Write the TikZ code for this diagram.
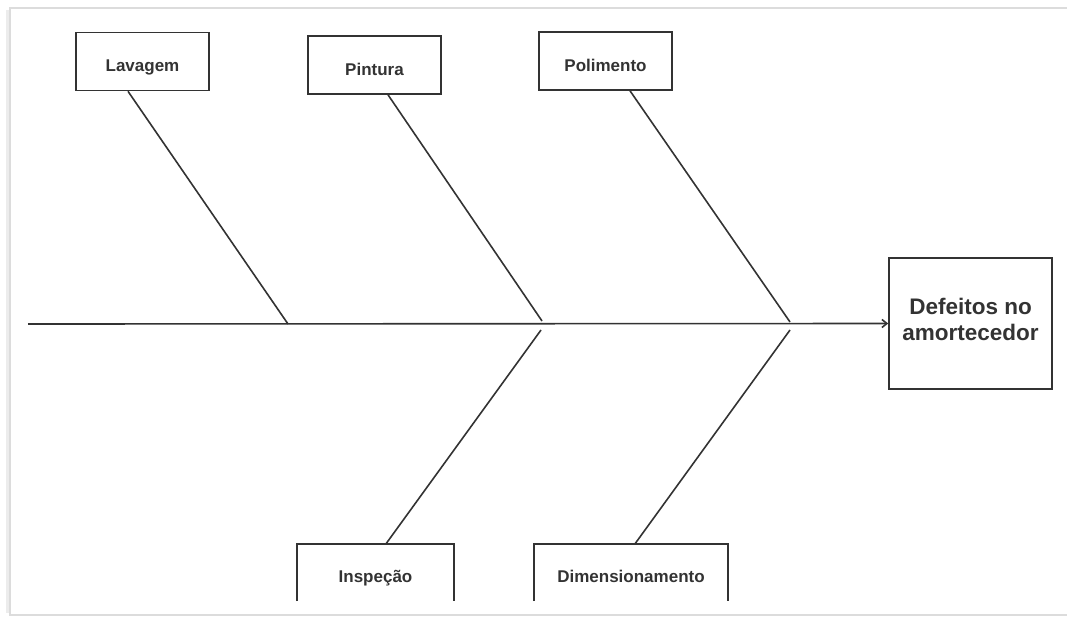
\documentclass[tikz,border=0pt]{standalone}
\usepackage{fontspec}
\setmainfont{Liberation Sans}
\usetikzlibrary{arrows.meta,positioning,calc}
\definecolor{BoneGray}{HTML}{333333}
\definecolor{FrameGray}{HTML}{DCDCDC}

\begin{document}
\begin{tikzpicture}[x=1pt,y=-1pt,
    cause/.style={draw=BoneGray,line width=1.6pt,minimum width=133pt,minimum height=58pt,
      font=\fontsize{17}{20}\selectfont\bfseries,text=BoneGray,inner sep=0pt,
      text height=21pt,text depth=0.6pt},
    lowcause/.style={minimum height=57pt,font=\fontsize{17}{20}\selectfont\bfseries,text=BoneGray,
      inner sep=0pt,text height=21pt,text depth=0.6pt},
    bone/.style={BoneGray,line width=1.6pt}]
  \useasboundingbox (0,0) rectangle (1067,616);
  % frame of the screenshot
  \draw[FrameGray,line width=1.5pt] (1067,8)--(10,8)--(10,615)--(1067,615);
  \draw[gray!15,line width=3pt] (7,10)--(7,613);
  % heads
  \node[cause] (lav) at (142.5,61.5) {Lavagem};
  \node[cause] (pint) at (374.5,65) {Pintura};
  \node[cause] (pol) at (605.5,61) {Polimento};
  \node[draw=BoneGray,line width=1.6pt,minimum width=163pt,minimum height=131pt,inner sep=0pt,
    align=center,font=\fontsize{22.5}{26}\selectfont\bfseries,text=BoneGray,
    text height=33pt,text depth=0pt] (efeito) at (970.5,323.5)
    {Defeitos no\\amortecedor};
  \node[lowcause,minimum width=157pt] (insp) at (375.5,572.5) {Inspeção};
  \node[lowcause,minimum width=194pt] (dim) at (631,572.5) {Dimensionamento};
  \draw[bone] (insp.south west)--(insp.north west)--(insp.north east)--(insp.south east);
  \draw[bone] (dim.south west)--(dim.north west)--(dim.north east)--(dim.south east);
  % spine
  \coordinate (tail) at (28,324);
  \coordinate (j1) at (288,324);
  \coordinate (j2) at (542,321);
  \coordinate (j3) at (790,322);
  \coordinate (k2) at (541,330);
  \coordinate (k3) at (790,330);
  \draw[bone,-{Straight Barb[length=5pt,width=8pt]}] (tail)--(efeito.west);
  % bones
  \draw[bone] ([xshift=-14.5pt]lav.south)--(j1);
  \draw[bone] ([xshift=13.5pt]pint.south)--(j2);
  \draw[bone] ([xshift=24.5pt]pol.south)--(j3);
  \draw[bone] (k2)--([xshift=10.5pt]insp.north);
  \draw[bone] (k3)--([xshift=4pt]dim.north);
\end{tikzpicture}
\end{document}
